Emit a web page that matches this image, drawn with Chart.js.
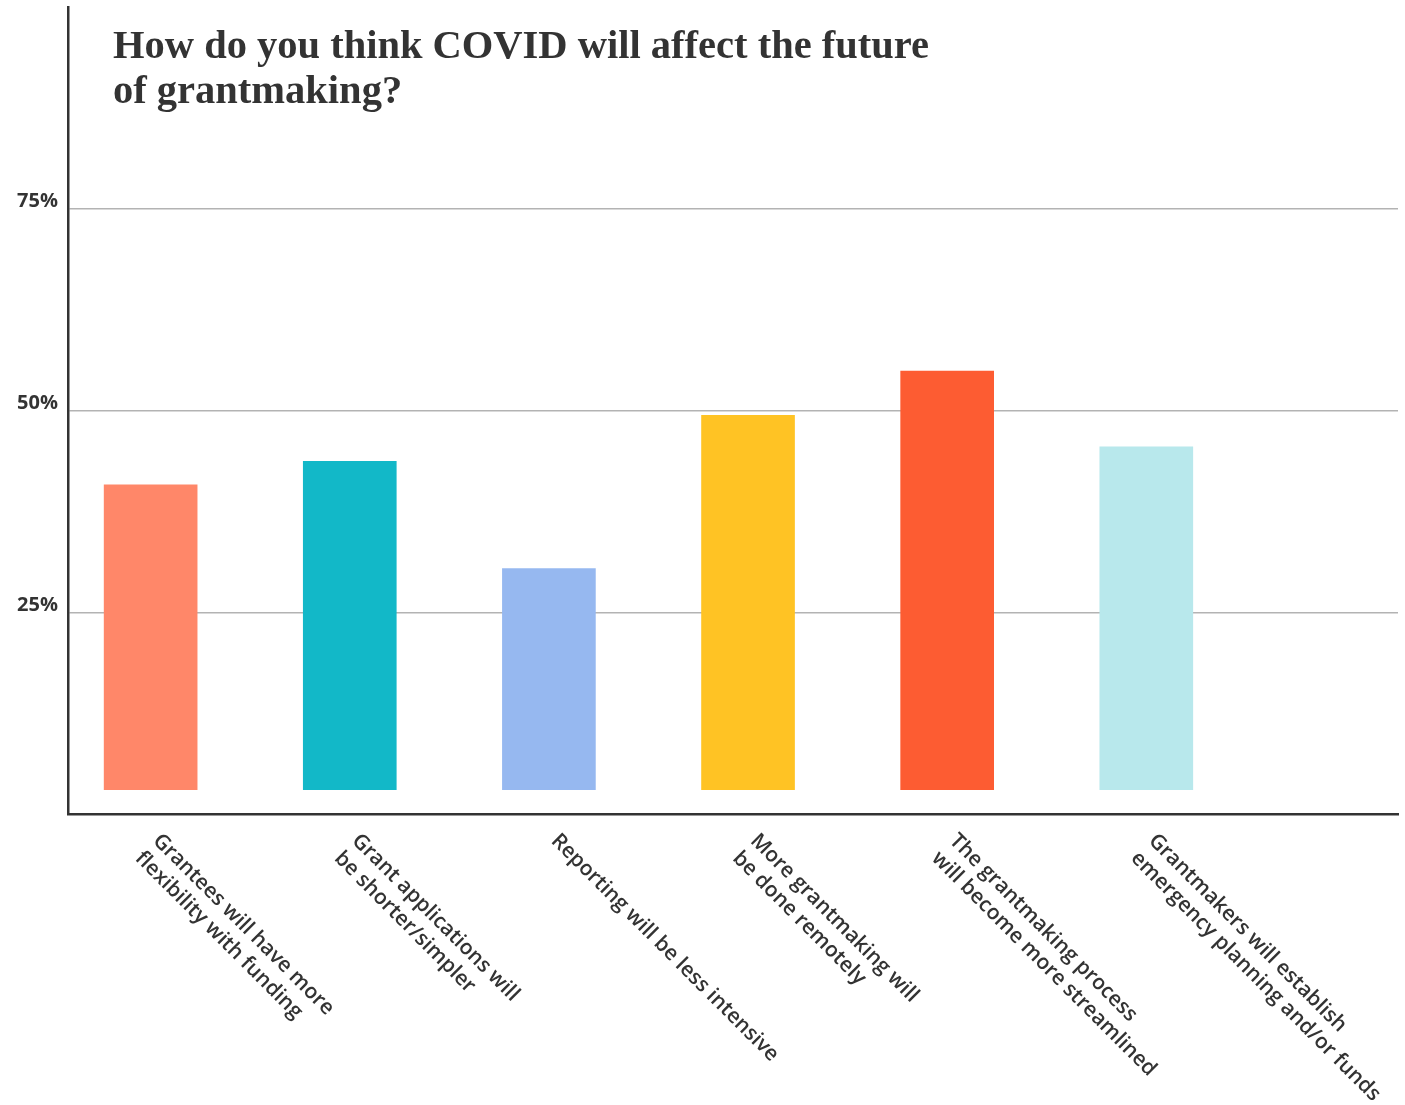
<!DOCTYPE html>
<html>
<head>
<meta charset="utf-8">
<script src="https://cdn.jsdelivr.net/npm/chart.js@4.4.1/dist/chart.umd.min.js"></script>
<style>
  html, body { margin: 0; padding: 0; background: #fff; }
  #wrap { width: 1405px; height: 1105px; position: relative; }
</style>
</head>
<body>
<div id="wrap"><canvas id="covidChart"></canvas></div>
<script>
'use strict';

const titleLines = ['How do you think COVID will affect the future', 'of grantmaking?'];
const categories = [
  ['Grantees will have more', 'flexibility with funding'],
  ['Grant applications will', 'be shorter/simpler'],
  ['Reporting will be less intensive'],
  ['More grantmaking will', 'be done remotely'],
  ['The grantmaking process', 'will become more streamlined'],
  ['Grantmakers will establish', 'emergency planning and/or funds']
];
const shares = [40.8, 43.7, 30.4, 49.4, 54.9, 45.5];
const barColors = ['#FF8769', '#12B8C8', '#96B8F0', '#FFC324', '#FD5C32', '#B8E8EC'];
const tickValues = [25, 50, 75];

const TEXT = '#333333';

// title sits inside the plot, top-left
const titlePlugin = {
  id: 'insideTitle',
  afterDraw(chart) {
    const ctx = chart.ctx;
    ctx.save();
    ctx.fillStyle = TEXT;
    ctx.font = 'bold 40.5px "Liberation Serif"';
    ctx.textAlign = 'left';
    ctx.textBaseline = 'alphabetic';
    titleLines.forEach((line, i) => ctx.fillText(line, 113, 58 + i * 45));
    ctx.restore();
  }
};

// category labels run down-right from each bar, Chart.js can't rotate that way
const slantLabels = {
  id: 'slantLabels',
  afterDraw(chart) {
    const ctx = chart.ctx;
    const xs = chart.scales.x;
    const top = chart.chartArea.bottom + 16;
    ctx.save();
    ctx.fillStyle = TEXT;
    ctx.font = '600 21px "Open Sans"';
    ctx.textAlign = 'left';
    ctx.textBaseline = 'top';
    categories.forEach((lines, i) => {
      const x = xs.getPixelForValue(i) + 13;
      ctx.save();
      ctx.translate(x, top);
      ctx.rotate(Math.PI / 4);
      lines.forEach((line, j) => ctx.fillText(line, 0, j * 25));
      ctx.restore();
    });
    ctx.restore();
  }
};

new Chart(document.getElementById('covidChart'), {
  type: 'bar',
  data: {
    datasets: [{
      data: shares.map((v, i) => ({ x: i, y: v })),
      backgroundColor: barColors,
      base: 3,
      barThickness: 93,
      borderWidth: 0
    }]
  },
  options: {
    responsive: true,
    maintainAspectRatio: false,
    animation: false,
    layout: { padding: { top: 7, right: 7, left: 0, bottom: 0 } },
    plugins: { legend: { display: false }, tooltip: { enabled: false } },
    scales: {
      x: {
        type: 'linear',
        offset: false,
        min: -0.415,
        max: 6.264,
        ticks: { display: false, stepSize: 1 },
        grid: { display: false },
        border: { display: true, color: '#333', width: 2.5 },
        afterFit(scale) { scale.height = 291; scale.paddingLeft = 0; scale.paddingRight = 0; }
      },
      y: {
        min: 0,
        max: 100,
        ticks: {
          stepSize: 25,
          padding: 10,
          color: TEXT,
          labelOffset: -7,
          font: { family: 'Open Sans', size: 20, weight: '700' },
          callback: v => tickValues.includes(v) ? v + '%' : ''
        },
        grid: {
          drawTicks: false,
          lineWidth: 1.5,
          color: c => tickValues.includes(c.tick.value) ? '#b3b3b3' : 'rgba(0,0,0,0)'
        },
        border: { display: true, color: '#333', width: 2.5 },
        afterFit(scale) { scale.width = 68; scale.paddingTop = 0; scale.paddingBottom = 0; }
      }
    }
  },
  plugins: [titlePlugin, slantLabels]
});
</script>
</body>
</html>
